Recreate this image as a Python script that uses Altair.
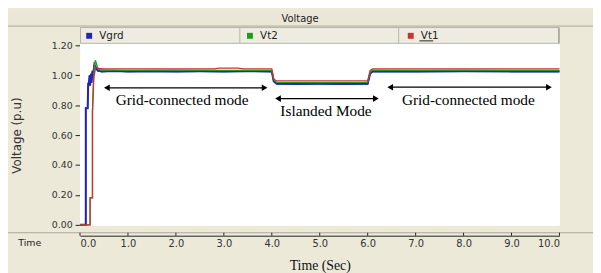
import altair as alt
import pandas as pd

# ---------------- data ----------------
series_names = ["Vgrd", "Vt2", "Vt1"]
series_colors = ["#2424b8", "#1f9a1f", "#c83434"]

t_vgrd = [0.00, 0.12, 0.12, 0.16, 0.17, 0.19, 0.20, 0.21, 0.23, 0.24, 0.26, 0.27, 0.30, 0.33, 0.37,
          0.45, 0.70, 1.00, 1.50, 2.00, 2.50, 3.00, 3.50, 4.00, 4.04, 4.10, 4.50, 5.00, 5.50, 6.00,
          6.05, 6.10, 7.00, 8.00, 9.00, 10.00]
v_vgrd = [0.00, 0.00, 0.78, 0.78, 0.94, 0.96, 1.00, 0.93, 1.01, 0.95, 1.03, 0.99, 1.07, 1.05, 1.03,
          1.025, 1.028, 1.025, 1.027, 1.025, 1.026, 1.025, 1.027, 1.025, 0.96, 0.943, 0.942, 0.943, 0.941, 0.943,
          1.01, 1.026, 1.025, 1.026, 1.025, 1.025]

t_vt2 = [0.00, 0.21, 0.21, 0.26, 0.26, 0.28, 0.30, 0.32, 0.34, 0.37, 0.42, 0.60, 1.00, 2.00, 3.00,
         4.00, 4.04, 4.10, 5.00, 6.00, 6.05, 6.10, 7.00, 8.00, 9.00, 10.00]
v_vt2 = [0.00, 0.00, 0.18, 0.18, 0.75, 0.97, 1.06, 1.10, 1.08, 1.045, 1.035, 1.034, 1.033, 1.034, 1.033,
         1.033, 0.97, 0.952, 0.951, 0.952, 1.02, 1.034, 1.033, 1.034, 1.033, 1.033]

t_vt1 = [0.00, 0.21, 0.21, 0.26, 0.26, 0.29, 0.33, 0.38, 0.50, 1.00, 2.00, 2.80, 2.90, 3.30, 3.40,
         4.00, 4.04, 4.10, 5.00, 6.00, 6.05, 6.10, 7.00, 8.00, 9.00, 10.00]
v_vt1 = [0.00, 0.00, 0.18, 0.18, 0.76, 0.99, 1.055, 1.045, 1.042, 1.042, 1.042, 1.042, 1.048, 1.048, 1.042,
         1.042, 0.975, 0.962, 0.962, 0.962, 1.03, 1.042, 1.042, 1.042, 1.042, 1.042]

arrow_t1 = [0.56, 4.13, 6.47]
arrow_t2 = [3.85, 6.17, 9.78]
arrow_v = [0.916, 0.844, 0.920]

label_text = ["Grid-connected mode", "Islanded Mode", "Grid-connected mode"]
label_t = [2.13, 5.13, 8.10]
label_v = [0.835, 0.763, 0.835]

x_ticks = [0, 1, 2, 3, 4, 5, 6, 7, 8, 9, 10]
y_ticks = [0.0, 0.2, 0.4, 0.6, 0.8, 1.0, 1.2]

chart_title = "Voltage"
x_title = "Time (Sec)"
y_title = "Voltage (p.u)"
x_side_label = "Time"

# ---------------- tables ----------------
rows = []
for name, ts, vs in [("Vgrd", t_vgrd, v_vgrd), ("Vt2", t_vt2, v_vt2), ("Vt1", t_vt1, v_vt1)]:
    for i, (t, v) in enumerate(zip(ts, vs)):
        rows.append({"series": name, "t": t, "v": v, "i": i})
lines_df = pd.DataFrame(rows)
arrows_df = pd.DataFrame({"t": arrow_t1, "t2": arrow_t2, "v": arrow_v})
labels_df = pd.DataFrame({"t": label_t, "v": label_v, "txt": label_text})
ticks_df = pd.DataFrame({"t": x_ticks})
one = pd.DataFrame({"k": [0]})

W, H = 486, 182

x_scale = alt.Scale(domain=[0, 10], nice=False, zero=False)
y_scale = alt.Scale(domain=[0, 1.2], nice=False)

x_axis = alt.Axis(title=x_title, values=x_ticks, format=".1f", offset=11,
                  ticks=False, tickSize=0, grid=False, labelPadding=3,
                  labelOverlap=False,
                  domainColor="#222", labelColor="#333", labelFont="DejaVu Sans",
                  labelFontSize=10, titleFont="Liberation Serif", titleFontSize=14,
                  titleFontWeight="normal", titleColor="#111", titleY=30,
                  titleBaseline="middle")
y_axis = alt.Axis(title=y_title, values=y_ticks, format=".2f", tickSize=5,
                  grid=False, labelPadding=3, labelOverlap=False, labelFlush=False,
                  domainColor="#222", tickColor="#222",
                  labelColor="#333", labelFont="DejaVu Sans", labelFontSize=9.5,
                  titleFont="DejaVu Sans", titleFontSize=12, titleFontWeight="normal",
                  titleColor="#333", titleX=-64, titleY=H / 2, titleAngle=-90,
                  titleAlign="center", titleBaseline="middle")


def X(field):
    return alt.X(field, scale=x_scale, axis=x_axis)


def Y(field):
    return alt.Y(field, scale=y_scale, axis=y_axis)


bg = "#ECE9D8"
border = "#ACA899"

# ---------------- decorations ----------------
title_bar = alt.Chart(one).mark_rect(color="#EAE7D6").encode(
    x=alt.value(-73), x2=alt.value(520), y=alt.value(-34), y2=alt.value(-19.5))
title_line = alt.Chart(one).mark_rule(color=border, strokeWidth=1).encode(
    x=alt.value(-73), x2=alt.value(520), y=alt.value(-19.5))
title_text = alt.Chart(one).mark_text(font="DejaVu Sans", fontSize=10, color="#222",
                                      align="center", baseline="middle").encode(
    x=alt.value(223), y=alt.value(-27), text=alt.value(chart_title))

white = alt.Chart(one).mark_rect(color="white").encode(
    x=alt.value(0), x2=alt.value(W), y=alt.value(-2), y2=alt.value(H + 1))

legend_bar = alt.Chart(one).mark_rect(color="#EEECE0", stroke="#B8B5A5", strokeWidth=1).encode(
    x=alt.value(0.5), x2=alt.value(W - 0.5), y=alt.value(-18), y2=alt.value(-2))
legend_div1 = alt.Chart(one).mark_rule(color="#B8B5A5").encode(
    x=alt.value(162), y=alt.value(-18), y2=alt.value(-2))
legend_div2 = alt.Chart(one).mark_rule(color="#B8B5A5").encode(
    x=alt.value(323), y=alt.value(-18), y2=alt.value(-2))
legend_right = alt.Chart(one).mark_rule(color="#8E8C80").encode(
    x=alt.value(W - 0.5), y=alt.value(-18), y2=alt.value(-2))
vt1_underline = alt.Chart(one).mark_rule(color="#222").encode(
    x=alt.value(344), x2=alt.value(358), y=alt.value(-4.5))

separator = alt.Chart(one).mark_rule(color=border, strokeWidth=1).encode(
    x=alt.value(-73), x2=alt.value(520), y=alt.value(190))

time_label = alt.Chart(one).mark_text(font="DejaVu Sans", fontSize=9.5, color="#222",
                                      align="center", baseline="middle").encode(
    x=alt.value(-51), y=alt.value(200), text=alt.value(x_side_label))

x_tick_marks = alt.Chart(ticks_df).mark_rule(color="#222").encode(
    x=X("t:Q"), y=alt.value(190), y2=alt.value(193))

# ---------------- data layers ----------------
grd_thick = alt.Chart(lines_df).transform_filter(alt.datum.series == "Vgrd").mark_line(
    color=series_colors[0], strokeWidth=2.0).encode(
    x=X("t:Q"), y=Y("v:Q"), order="i:Q",
)

lines = alt.Chart(lines_df).mark_line(interpolate="linear", strokeWidth=1.3).encode(
    x=X("t:Q"),
    y=Y("v:Q"),
    color=alt.Color("series:N",
                    scale=alt.Scale(domain=series_names, range=series_colors),
                    legend=alt.Legend(title=None, orient="none", legendX=4, legendY=-15,
                                      direction="horizontal", columns=3, columnPadding=119,
                                      gridAlign="all", symbolType="square", symbolSize=9,
                                      symbolStrokeWidth=3, labelFont="DejaVu Sans",
                                      labelFontSize=10.5, labelColor="#222", labelOffset=5,
                                      padding=0)),
    order="i:Q",
)

arrow_lines = alt.Chart(arrows_df).mark_rule(color="black", strokeWidth=1.2).encode(
    x=X("t:Q"), x2="t2:Q", y=Y("v:Q"))
arrow_left = alt.Chart(arrows_df).mark_point(shape="triangle-left", filled=True, color="black",
                                             size=45, opacity=1).encode(
    x=X("t:Q"), y=Y("v:Q"))
arrow_right = alt.Chart(arrows_df).mark_point(shape="triangle-right", filled=True, color="black",
                                              size=45, opacity=1).encode(
    x=X("t2:Q"), y=Y("v:Q"))
texts = alt.Chart(labels_df).mark_text(font="Liberation Serif", fontSize=15.5, color="black",
                                       align="center", baseline="middle").encode(
    x=X("t:Q"), y=Y("v:Q"), text="txt:N")

chart = alt.layer(
    title_bar, title_line, title_text, white, legend_bar, legend_div1, legend_div2, legend_right,
    vt1_underline, separator, time_label, x_tick_marks,
    grd_thick, lines, arrow_lines, arrow_left, arrow_right, texts,
).properties(
    width=W, height=H,
    padding={"left": 73, "top": 36, "right": 34, "bottom": 47},
    autosize=alt.AutoSizeParams(type="none"),
    background=bg,
).configure_view(fill="white", stroke="transparent")

chart.save("out.html", embed_options={"renderer": "svg", "actions": False})
